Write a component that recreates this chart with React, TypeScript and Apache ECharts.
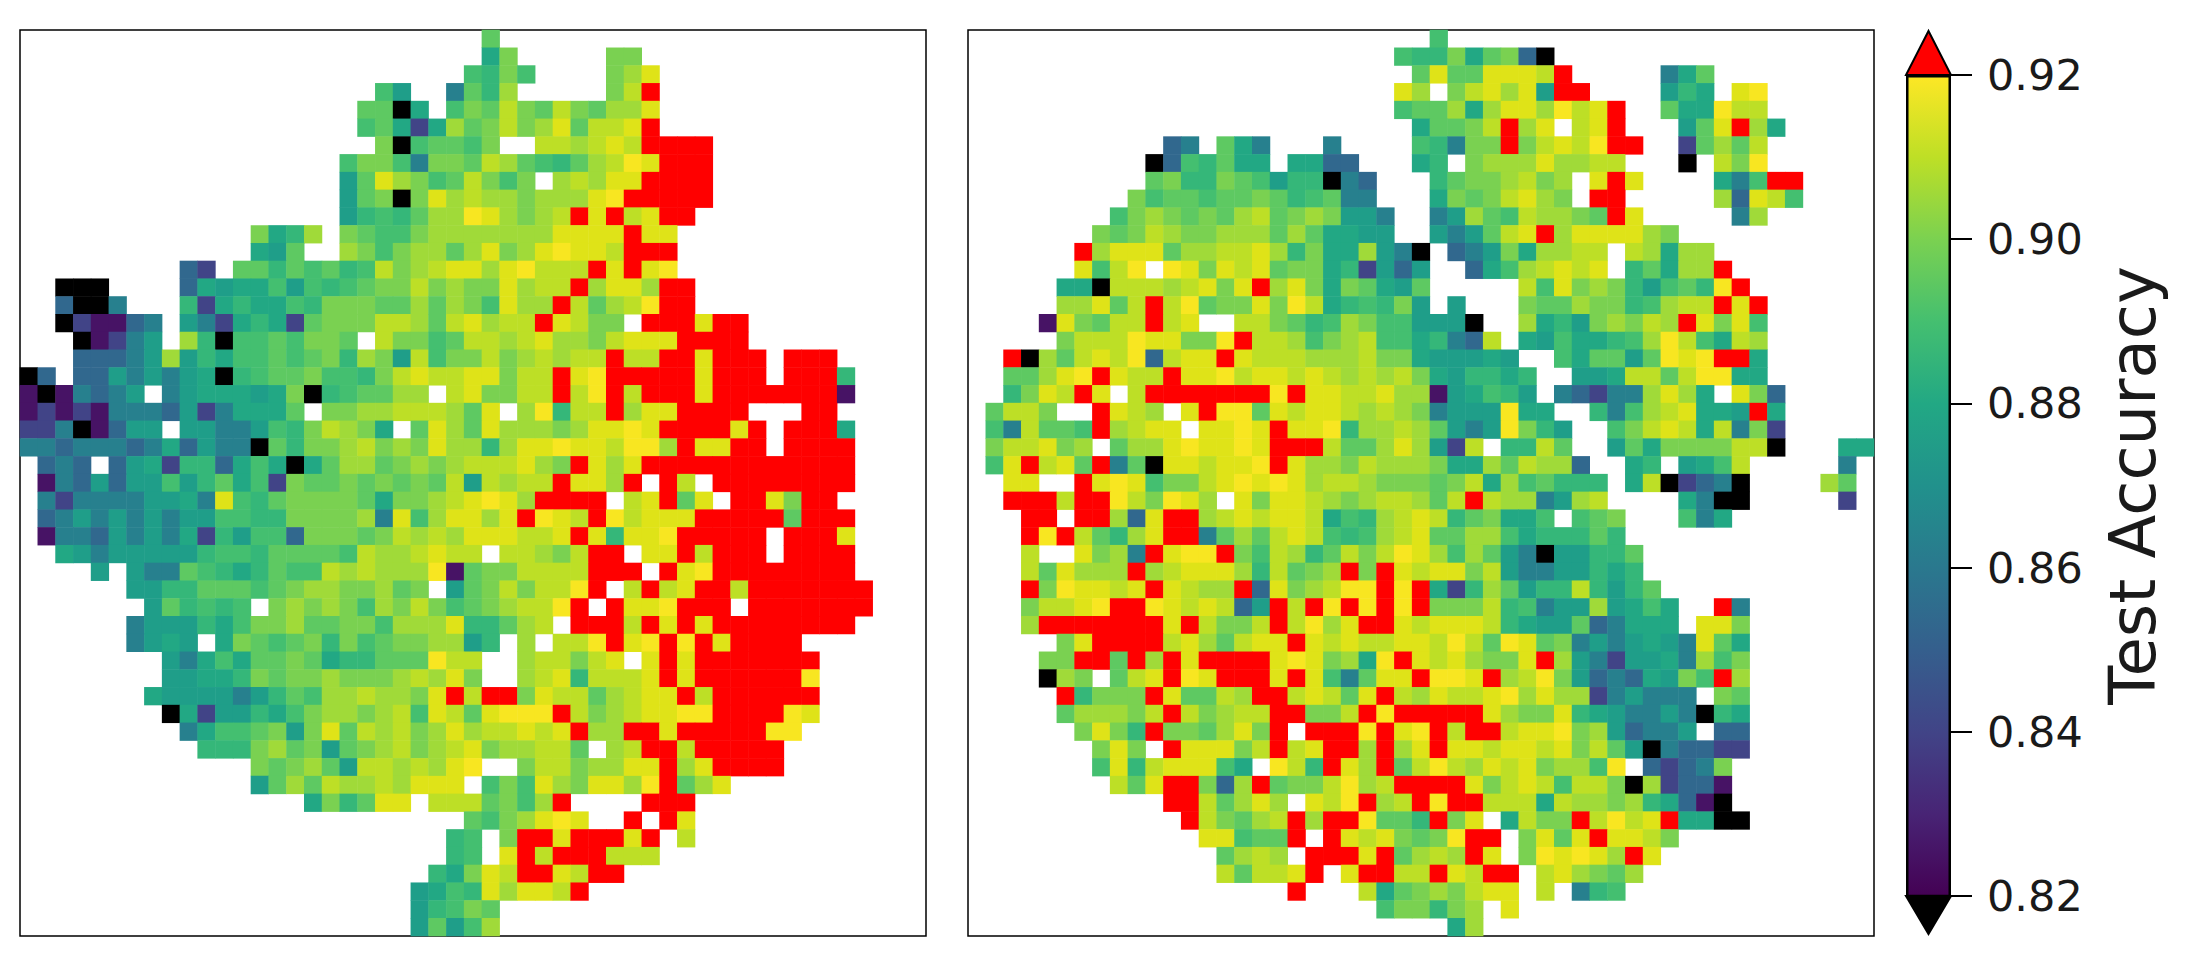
import React, { useEffect, useRef } from "react";
import * as echarts from "echarts";

// Each row: columns 0-25 | columns 26-50. "." = no value, K = below range, R = above range, a..n = levels.
const leftRows: string[] = [
  "..........................|i",
  "..........................|fj.....jj",
  ".........................h|gjh....jkm",
  "....................he..di|gk.....jlR",
  "...................iiKf.hj|iljiljikkm",
  "...................hifbfki|jljkmillmR",
  "....................jKhiih|j..llklmlRRRR",
  "..................hjjhdjji|lkihgiklnmRRR",
  "..................eimkjhil|jhj.klkmmRRRR",
  "..................eijKjmkl|kkjkkkmnRRRRR",
  "..................eghgikkn|mkjklRmRlmRR",
  ".............jfgk.jihhjkkk|kkkkmmmmRmm",
  ".............fei..kjhjkkik|mjkmnmmlRRR",
  ".........cb.iigihighljklmm|kmnlllRmRmn",
  "..KKK....cfeffhehghijjljkj|jmkllRkmmkRR",
  "..cKKd...gbfgffhgjjjiikikj|hmkkRliklnRR",
  "..Kbaacd.edbfgfbijjjllkilm|kllRmljj.RRRmRR",
  "...Kabde.kgKhhihjji.ljjhil|lklmkkjlmmmRRRR",
  "...cccdekegfhhihijgkjelhjj|ljklkllRllRRmRRR.RRR",
  "Kc.ccededefKghiijhhgjlmllm|mjllRmnRRRRRmRRR.RRRg",
  "aKadcde.defffefjKghiikk.lm|jjllRlnRlRRRmRRRRRRRa",
  "ababadddcebdfffi.jjkklllki|m.kngllRkmmRRRR...RR",
  "bbdKacee.eeddehgjlkjf.imki|mkkkjkmmnmRRRRmR.RRRf",
  "ddcdddcdfceddKigjjkljkjmkk|gkmmnmmlnnkRmmRR.RRRR",
  ".cdc.cefbggcfhfKfikkijkjkl|llmkjRmkmRRRRRRRRRRRR",
  ".adceceehegifhbjiijijijile|lkllRmmkR.Rl.RRRRRRRR",
  ".dbddddeefdmhgijjjjifjjklm|nmkRRRR.lmRim.RRmjRR",
  ".cdedededeehhggjjjjkdmhkmm|kmRnmlRnlmmmRRRRRiRRR",
  ".addcededfbgehhcjjjijlklkm|mmllmRmgmmnRRRRR.RRRm",
  "..fedeeeeeghhgiiiihlkklmll|.llkjlRR.mmRlRRR.RRRR",
  "....e.eddihgfgihhlklkkknai|jjllllRRR.RmnRRRRRRRR",
  "......eeggiiihijkkjjkij.ei|jljllnR.lRlmRRlRRRRRRR",
  ".......eighgh.jkjkjhkjljhi|jkllnR.RmmnRRR.RRRRRRR",
  "......deeegfhjjkiijjhkkkmg|gikl.RRRlRmRmRRRRRRRR",
  "......defe.fjihijgjhijjkke|g.k.llnRmnRnRmRRRR",
  "........edfhfiijifggiiinll|..klljlm.mRmRRRRRRR",
  "........eeffgjijjkjjjklkmj|..klmglllmRmRRRRRRn",
  ".......feeeedegihkklkkjmRl|RRjmlliklmmRlRRRRRR",
  "........Kfbeegfhjkkjklhmli|mnnnRljklmmnnRRRRnm",
  ".........dfhhijejmilkljkmk|llmlmRkkRRmRRRRRnn",
  "..........gggjkijeijkljklm|jkklli.klRRlRRRRR",
  ".............jijkiellklkmn|..jlljkkmmRkmRRRR",
  ".............eikilkklkmmm.|hjhmkjmmknRikm",
  "................fjgimm.lll|ijhkR....RRR",
  ".........................i|hjkmnm..R.Rm",
  "........................gh|.jRRmRRRmR.l",
  "........................gh|.mRlRRRlll",
  ".......................gfj|mlRRmlRR",
  "......................efhg|mkmmlR",
  "......................eghj|i",
  "......................eieh|k",
];

const rightRows: string[] = [
  "..........................|h",
  "........................hg|gjfijcK",
  ".........................i|miimmmlR.....dfi",
  "........................mk|.jlmkmeRR....egf.mn",
  "........................hi|ikfkmmknlmR..iffnll",
  ".........................f|iijlRkm.lmR...eimRkf",
  "...........cd.ifd...d....h|gdjjRjlmlnRR..bikil",
  "..........Kchgiff.ffcc...f|g.jkkkmkkll...K.ljn",
  "..........ijggjiheggKdc...|gijjkljk.mRm....fdhRR",
  ".........jhiihiijighidd...|fjijlmkj.RR.....kcmlh",
  "........hjkjijiklijkjeed..|dekihlkkjiRm.....dk",
  ".......jijlkjjkkkikiffee..|edeilmRkmmmmkj",
  "......RkmmmikkllmkgjffkedK|.cdejfkkll.lkfkk",
  "......mhln.nmjmlmijjfgbece|..cfhklmlm.gifkkR",
  ".....ffKlllklmjmRkmjfjifei|.....lhmjkjgehignR",
  ".....kkmilRlnijjmjnlfghgje|.e...jiikjjghkllRmR",
  "....amjillRlm..lljighkjhhe|eeK..kfgejkjlkRmjmh",
  ".....jlllnmmjjnRllkhjklhhf|gdcl.fehffghknlhflk",
  "..RKkilmlnclmmRmlllkkkljjf|eeefe..hfiieinmnRRf",
  "..iikmnRmllRmmnlmmlmlklklj|feggfg..eefllilnnff",
  "..gjmlRm.lRRRRRRRnRmmllmkk|aefhge.dcbddkmkf.mjc",
  ".illj..Rmlk.mRnnimlmmlklkj|deeenff..gdhklmffeRf",
  ".hdliihRklmm.mmnmRmmngkklk|iedenjge..hjlmlfldjb",
  ".jllmjk.ikkmnmmnmRRRliikmk|ebl.ggli..eifjjjjllK...ff",
  ".hmRlmiRdiKmmlmmnRmkkjlkkk|jffkilkkc..fg.efhl.....d",
  "..mm..Rmnmhjjlmnmnmkllkjjj|ijlfkhiggg.flKbcdK....ki",
  "..RRRlRRnljnmk.mjmmlkjkllk|ilRlkkdekl....fdKK.....b",
  "...RR.RRkcmRRklmlmmlfhgklm|lgijffh.hij...hdf",
  "...RnRligkmRRdikilmlhghklm|iikkhfgggig",
  "...l..mjkdRmnnRjhlkgiljlnm|khkiedKeeggi",
  "...limkkkRklmmmkglijkRjRml|mmjleddeegfg",
  "...RjnmmlmRmlkkRcmjklnnRnR|fbgkiegglgegi",
  "...jllmnRRnmlmlceRlRnRnRnR|jjjlghdeekefhf..Rd",
  "...kRRRRRRRmRljjlRlnkmRRml|mmmlgfeeicdfff.mmj",
  ".....jmRRRRlmkilmmRmlmllmm|lnlinmijdedefedmif",
  "....jjRRiRkRmRRRRmnmjkfnRm|lmkjjmRkedbeefdkhj",
  "....Kkj.ilmRnmRRRmRmhdimmR|nnmRklnjecdcfejhRk",
  ".....RgjjjRmiilkRRlmlimRlk|mllmnkmkkbdeddd.ji",
  ".....ikkkjlRljkllRRjjlRnRR|RRRmkjjmgfeddedKgf",
  "......jmjgRjjikmjR.RRRnRmn|RlRRlmmnjkecdde.cc",
  ".......jmj.RmmmjlRlmRRkRkm|RmmlmmlmjlieKdccbb",
  ".......hmglmmmhf.nlgRmkRil|nlkmlmjkkhn.cbcdj",
  "........limRRjckRijjlnklRR|RRmjlmlhlljKkbcca",
  "...........RRlikmk.mlnRklR|nRRlllflkkjkgfcaK",
  "............RljiklRkRRniig|Rjm.fljjRlnlmRffKK",
  ".............mmhiiR.Rmlmji|jnRR.jmimRmmlj",
  "..............iklk.RRRmRik|lkRm.jnmnmkRm",
  "..............lillmR.mRRll|RmlRR.lmkjik",
  "..................R...lfij|kjlmm.l.dgh",
  ".......................hjj|gjk.m",
  "..........................|.fk",
];

const levelCodes = "abcdefghijklmn";
const levelValues = [0.825, 0.84, 0.855, 0.865, 0.875, 0.88, 0.885, 0.89, 0.895, 0.9, 0.905, 0.91, 0.915, 0.919];
const levelColors = ["#471365", "#414487", "#31688e", "#27808e", "#1f9e89", "#22a884", "#35b779", "#44bf70", "#5ec962", "#7ad151", "#a0da39", "#bddf26", "#dfe318", "#f8e621"];
const belowValue = 0.81;
const aboveValue = 0.93;
const gridSize = 51;
const colorbarTicks = { min: 0.82, max: 0.92, step: 0.02 };
const viridisStops = ["#440154", "#482475", "#414487", "#355f8d", "#2a788e", "#21918c", "#22a884", "#44bf70", "#7ad151", "#bddf26", "#fde725"];

function parseRows(rows: string[]) {
  const out: [number, number, number][] = [];
  rows.forEach((row, y) => {
    const [a, b = ""] = row.split("|");
    const put = (ch: string, x: number) => {
      if (ch === ".") return;
      const v = ch === "K" ? belowValue : ch === "R" ? aboveValue : levelValues[levelCodes.indexOf(ch)];
      out.push([x, y, v]);
    };
    a.split("").forEach((ch, i) => put(ch, i));
    b.split("").forEach((ch, i) => put(ch, 26 + i));
  });
  return out;
}

const cats = Array.from({ length: gridSize }, (_, i) => String(i));

export default function App() {
  const ref = useRef<HTMLDivElement>(null);
  useEffect(() => {
    document.body.style.margin = "0";
    const chart = echarts.init(ref.current!, undefined, { renderer: "svg" });
    const axisPair = (g: number) => ({
      x: { type: "category", gridIndex: g, data: cats, show: false },
      y: { type: "category", gridIndex: g, data: cats, inverse: true, show: false },
    });
    const a0 = axisPair(0);
    const a1 = axisPair(1);
    const pieces: any[] = [
      { lt: colorbarTicks.min, color: "#000000" },
      { gt: colorbarTicks.max, color: "#ff0000" },
      ...levelValues.map((v, i) => ({ value: v, color: levelColors[i] })),
    ];
    const panelBorder = { show: true, borderColor: "#000", borderWidth: 1.5, backgroundColor: "#fff" };
    chart.setOption({
      animation: false,
      backgroundColor: "#fff",
      grid: [
        { left: 20, top: 30, width: 906, height: 906, ...panelBorder },
        { left: 968, top: 30, width: 906, height: 906, ...panelBorder },
        { left: 1906, top: 75, width: 45, height: 821, show: false },
      ],
      xAxis: [a0.x, a1.x, { type: "category", gridIndex: 2, data: ["bar"], show: false }],
      yAxis: [
        a0.y,
        a1.y,
        {
          type: "value",
          gridIndex: 2,
          position: "right",
          min: colorbarTicks.min,
          max: colorbarTicks.max,
          interval: colorbarTicks.step,
          axisLine: { show: false },
          splitLine: { show: false },
          axisTick: { show: true, length: 21, inside: false, lineStyle: { color: "#000", width: 2 } },
          axisLabel: {
            show: true,
            margin: 36,
            fontSize: 43,
            fontFamily: "DejaVu Sans",
            color: "#1a1a1a",
            formatter: (v: number) => v.toFixed(2),
          },
          name: "Test Accuracy",
          nameLocation: "middle",
          nameRotate: 90,
          nameGap: 150,
          nameTextStyle: { fontSize: 64, fontFamily: "DejaVu Sans", color: "#1a1a1a" },
        },
      ],
      visualMap: {
        type: "piecewise",
        show: false,
        seriesIndex: [0, 1],
        dimension: 2,
        pieces,
      },
      series: [
        { type: "heatmap", xAxisIndex: 0, yAxisIndex: 0, data: parseRows(leftRows), silent: true, progressive: 0 },
        { type: "heatmap", xAxisIndex: 1, yAxisIndex: 1, data: parseRows(rightRows), silent: true, progressive: 0 },
        {
          type: "bar",
          xAxisIndex: 2,
          yAxisIndex: 2,
          barWidth: "100%",
          silent: true,
          data: [colorbarTicks.max],
          itemStyle: {
            borderColor: "#000",
            borderWidth: 2.5,
            color: new echarts.graphic.LinearGradient(
              0, 1, 0, 0,
              viridisStops.map((c, i) => ({ offset: i / (viridisStops.length - 1), color: c }))
            ),
          },
        },
      ],
      graphic: [
        {
          type: "polygon",
          shape: { points: [[1906, 75], [1951, 75], [1928.5, 31]] },
          style: { fill: "#ff0000", stroke: "#000", lineWidth: 2 },
        },
        {
          type: "polygon",
          shape: { points: [[1906, 896], [1951, 896], [1928.5, 934]] },
          style: { fill: "#000", stroke: "#000", lineWidth: 2 },
        },
      ],
    });
    return () => chart.dispose();
  }, []);
  return <div ref={ref} style={{ position: "absolute", left: 0, top: 0, width: 2188, height: 965 }} />;
}
